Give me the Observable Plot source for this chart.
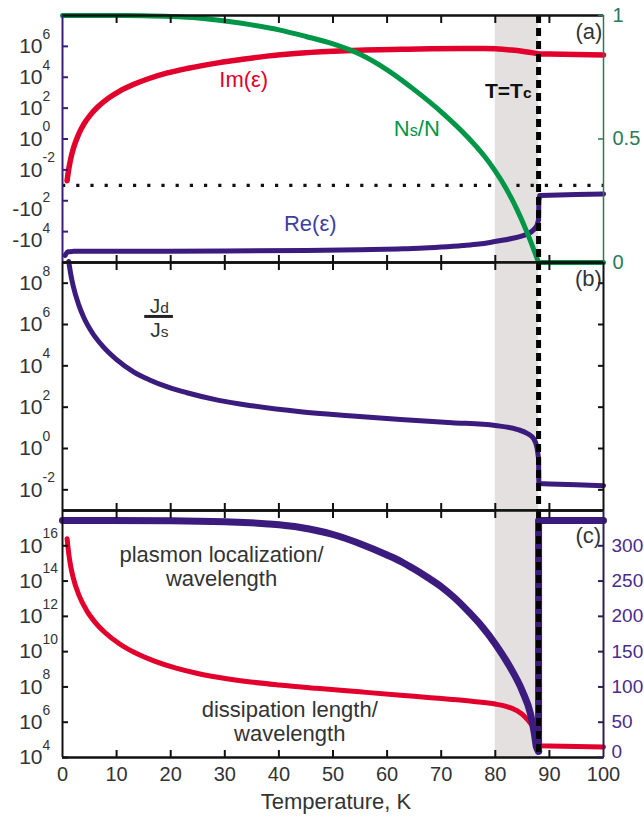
<!DOCTYPE html>
<html><head><meta charset="utf-8">
<script src="https://cdn.jsdelivr.net/npm/d3@7"></script>
<script src="https://cdn.jsdelivr.net/npm/@observablehq/plot@0.6"></script>
<style>
body{margin:0;background:#fff;}
#chart{width:644px;height:821px;overflow:hidden;position:relative;background:#fff}
#chart svg{display:block;overflow:visible}
</style></head><body><div id="chart"></div>
<script>
// ---------- data ----------
const Tc = 88;
const transitionBand = [80, 88];
const xTickValues = [0, 10, 20, 30, 40, 50, 60, 70, 80, 90, 100];

// panel (a): Im(eps), Ns/N, Re(eps)
const imT   = [0.85, 1.0, 1.5, 2, 3, 4, 5.2, 6.5, 8.3, 10.5, 13.2, 16, 19.4, 23, 29, 33, 37.8, 43, 50, 56, 62.5, 68, 74, 78, 80, 83, 85, 87, 88.1, 90, 95, 100];
const imEps = [2.0e-3, 5.0e-3, 4.9e-2, 0.24, 2.1, 9.8, 38, 117, 400, 1.23e3, 3.5e3, 8.3e3, 1.9e4, 3.7e4, 8.9e4, 1.41e5, 2.34e5, 3.47e5, 4.8e5, 5.75e5, 6.45e5, 6.9e5, 7.2e5, 7.25e5, 6.9e5, 5.75e5, 4.8e5, 3.8e5, 3.16e5, 3.16e5, 2.95e5, 2.75e5];
const nsT    = [0, 10, 15, 20, 25, 30, 35, 40, 45, 50, 55, 60, 65, 70, 75, 78, 80, 82, 84, 86, 88, 90, 95, 100];
const nsFrac = [1, 1, 0.999, 0.996, 0.99, 0.978, 0.962, 0.942, 0.915, 0.885, 0.843, 0.78, 0.70, 0.61, 0.505, 0.43, 0.37, 0.30, 0.215, 0.115, 0, 0, 0, 0];
const reT   = [0.5, 1, 2, 3, 10, 30, 45, 55, 62, 66, 70, 74, 77, 79, 81, 83, 85, 86.5, 87.3, 87.8, 88, 88.05, 88.2, 90, 95, 100];
const reEps = [-3.5e5, -2.0e5, -1.9e5, -1.86e5, -1.86e5, -1.82e5, -1.66e5, -1.48e5, -1.32e5, -1.2e5, -1.0e5, -7.9e4, -6.3e4, -5.0e4, -3.8e4, -2.8e4, -1.9e4, -1.12e4, -6.3e3, -3.2e3, -1.6e3, -1.0e2, -46, -44, -40, -36];

// panel (b): Jd/Js
const jT     = [1.15, 1.5, 2, 3, 4, 5.5, 7.5, 10, 13.2, 16, 19.4, 23, 28.9, 35, 44, 53, 62.5, 72, 80, 84, 86, 87.1, 87.7, 88, 88.05, 90, 95, 100];
const jRatio = [1.12e9, 2.95e8, 6.9e7, 8.9e6, 2.0e6, 4.0e5, 8.5e4, 2.0e4, 5.0e3, 2.14e3, 955, 500, 214, 117, 60, 38, 25, 17.8, 12.9, 8.5, 5.2, 2.95, 1.12, 0.32, 0.02, 0.019, 0.0174, 0.0158];

// panel (c): dissipation length / wavelength (left), plasmon localization / wavelength (right)
const dT      = [0.85, 1.2, 1.5, 2, 3, 4.5, 6, 8, 10.5, 13.5, 17, 21, 25, 29, 34, 40, 47, 55, 62.5, 68, 72, 76, 80, 82, 84, 85.5, 86.5, 87.3, 88, 88.2, 90, 95, 100];
const dissLen = [2.5e16, 2.8e15, 7.4e14, 1.48e14, 1.7e13, 2.04e12, 4.7e11, 1.1e11, 2.8e10, 8.3e9, 2.9e9, 1.15e9, 5.75e8, 3.4e8, 2.04e8, 1.29e8, 8.3e7, 5.25e7, 3.4e7, 2.45e7, 1.95e7, 1.5e7, 1.07e7, 7.9e6, 4.5e6, 2.0e6, 8.9e5, 4.0e5, 1.7e5, 4.6e4, 4.5e4, 4.2e4, 4.0e4];
const pT         = [0, 20, 30, 38, 44, 50, 55, 60, 62.5, 65, 67.5, 70, 72.5, 75, 77.5, 80, 82.5, 85, 86.5, 87.2, 87.6, 88, 88, 94, 100];
const plasmonLoc = [336, 335.5, 334, 331, 326, 316, 303, 287, 278, 267, 255, 242, 226, 207, 186, 161, 131, 94, 62, 35, 15, 9, 336, 336, 336];

// axes
const aDomain = [-1e6, 1e8];
const aLeftTicks = [1e6, 1e4, 1e2, 1, 1e-2, -1e2, -1e4];
const aRightTicks = [0, 0.5, 1];
const bDomain = [1e-3, 1e9];
const bTicks = [1e-2, 1, 1e2, 1e4, 1e6, 1e8];
const cDomain = [1e4, 1e18];
const cLeftTicks = [1e4, 1e6, 1e8, 1e10, 1e12, 1e14, 1e16];
const cRightDomain = [0, 350];
const cRightTicks = [0, 50, 100, 150, 200, 250, 300];

// text
const panelTags = ["(a)", "(b)", "(c)"];
const xTitle = "Temperature, K";
const txtIm = "Im(ε)", txtRe = "Re(ε)", txtNs = "N_{s}/N", txtTc = "T=T_{c}";
const txtJd = "J_{d}", txtJs = "J_{s}";
const txtPlasmon = "plasmon localization/\nwavelength";
const txtDiss = "dissipation length/\nwavelength";

// ---------- style ----------
const W = 644, ML = 62, MR = 41;
const font = "'Liberation Sans', Arial, Helvetica, sans-serif";
const red = "#e2002c", green = "#009648", purple = "#3b1c7e";
const greenAxis = "#2a7a55", purpleText = "#4a2a8c", reText = "#3f3f9e";
const ink = "#333333", bandColor = "#e3e0df";
const zip = (xs, ys) => xs.map((T, i) => ({T, v: ys[i]}));
const tickLabel = v => (v < 0 ? "-" : "") + "10^{" + Math.round(Math.log10(Math.abs(v))) + "}";
const commonStyle = {fontFamily: font, fontSize: "20px", overflow: "visible", background: "transparent", color: "#111"};

// a smooth segment below Tc and a straight jump/plateau above it
function seriesLines(xs, ys, yFn, opts) {
  const pts = zip(xs, ys);
  const k = pts.findIndex(d => d.T >= Tc);
  const pre = pts.slice(0, k + 1), post = pts.slice(k);
  return [
    Plot.line(pre, {x: "T", y: yFn, curve: "monotone-x", ...opts}),
    Plot.line(post, {x: "T", y: yFn, curve: "linear", ...opts})
  ];
}
function xTicksMarks() {
  const inner = xTickValues.slice(1, -1);
  return [
    Plot.axisX({anchor: "top", ticks: inner, tickSize: 7, dy: 7, fill: "none", stroke: "#111", strokeWidth: 2, label: null}),
    Plot.axisX({anchor: "bottom", ticks: inner, tickSize: 7, dy: -7, fill: "none", stroke: "#111", strokeWidth: 2, label: null})
  ];
}
function bandMark() {
  return Plot.rect([transitionBand], {x1: d => d[0], x2: d => d[1], fill: bandColor});
}
function tcMark() {
  return Plot.ruleX([Tc], {stroke: "#000", strokeWidth: 5, strokeDasharray: "8,5"});
}

// ---------- panel (a) ----------
const f = v => v > 0 ? Math.log10(v) + 3 : 1 - Math.log10(-v);   // split log scale
const ta0 = f(aDomain[0]), ta1 = f(aDomain[1]);
const g = n => ta0 + n * (ta1 - ta0);                               // right axis (Ns/N)
const aLbl = new Map(aLeftTicks.map(v => [f(v), tickLabel(v)]));

const plotA = Plot.plot({
  width: W, height: 262, marginTop: 15, marginBottom: 0, marginLeft: ML, marginRight: MR,
  x: {domain: [0, 100], label: null},
  y: {domain: [ta0, ta1], label: null},
  style: commonStyle,
  marks: [
    bandMark(),
    Plot.ruleY([0], {stroke: "#111", strokeWidth: 3.2, strokeDasharray: "3.2,11"}),
    ...seriesLines(imT, imEps, d => f(d.v), {stroke: red, strokeWidth: 5.5}),
    ...seriesLines(reT, reEps, d => f(d.v), {stroke: purple, strokeWidth: 5}),
    ...seriesLines(nsT, nsFrac, d => g(d.v), {stroke: green, strokeWidth: 5}),
    tcMark(),
    Plot.ruleY([ta0, ta1], {stroke: "#111", strokeWidth: 2.5}),
    Plot.ruleX([0], {stroke: purple, strokeWidth: 2}),
    Plot.ruleX([100], {stroke: greenAxis, strokeWidth: 1.5}),
    ...xTicksMarks(),
    Plot.axisY({anchor: "left", ticks: aLeftTicks.map(f), tickSize: 6, dx: 6, fill: "none", stroke: purple, strokeWidth: 2, label: null}),
    Plot.axisY({anchor: "left", ticks: aLeftTicks.filter(v => v > 0).map(f), tickFormat: t => aLbl.get(t), tickSize: 0, tickPadding: 20, fontSize: 21, fill: ink, label: null}),
    Plot.axisY({anchor: "left", ticks: aLeftTicks.filter(v => v < 0).map(f), tickFormat: t => aLbl.get(t), tickSize: 0, tickPadding: 20, dy: 9, fontSize: 21, fill: ink, label: null}),
    Plot.axisY({anchor: "right", ticks: aRightTicks.map(g), tickSize: 6, dx: -6, fill: "none", stroke: greenAxis, strokeWidth: 1.5, label: null}),
    Plot.axisY({anchor: "right", ticks: aRightTicks.map(g), tickFormat: t => d3.format("~g")((t - ta0) / (ta1 - ta0)), tickSize: 0, tickPadding: 9, fontSize: 20, fill: greenAxis, label: null}),
    Plot.text([txtIm], {x: 33.5, y: f(7e3), text: d => d, fill: red, fontSize: 22}),
    Plot.text([txtRe], {x: 45.8, y: f(-3e3), text: d => d, fill: reText, fontSize: 22}),
    Plot.text([txtNs], {x: 65.5, y: g(0.54), text: d => d, fill: green, fontSize: 22}),
    Plot.text([txtTc], {x: 82.4, y: f(1.2e3), text: d => d, fill: "#111", fontSize: 21, fontWeight: "bold"}),
    Plot.text([panelTags[0]], {x: 97.3, y: f(8.5e6), text: d => d, fill: ink, fontSize: 22})
  ]
});

// ---------- panel (b) ----------
const plotB = Plot.plot({
  width: W, height: 248, marginTop: 0, marginBottom: 0, marginLeft: ML, marginRight: MR,
  x: {domain: [0, 100], label: null},
  y: {type: "log", domain: bDomain, label: null},
  style: commonStyle,
  marks: [
    bandMark(),
    ...seriesLines(jT, jRatio, "v", {stroke: purple, strokeWidth: 5}),
    tcMark(),
    Plot.ruleY(bDomain, {stroke: "#111", strokeWidth: 2.5}),
    Plot.ruleX([0, 100], {stroke: "#111", strokeWidth: 2}),
    ...xTicksMarks(),
    Plot.axisY({anchor: "left", ticks: bTicks, tickSize: 6, dx: 6, fill: "none", stroke: "#111", strokeWidth: 2, label: null}),
    Plot.axisY({anchor: "right", ticks: bTicks, tickSize: 6, dx: -6, fill: "none", stroke: "#111", strokeWidth: 2, label: null}),
    Plot.axisY({anchor: "left", ticks: bTicks, tickFormat: tickLabel, tickSize: 0, tickPadding: 20, fontSize: 21, fill: ink, label: null}),
    Plot.text([panelTags[1]], {x: 97.2, y: 1.6e8, text: d => d, fill: ink, fontSize: 22}),
    Plot.text([txtJd], {x: 17.9, y: 10 ** 6.87, text: d => d, fill: ink, fontSize: 21}),
    Plot.text([txtJs], {x: 17.9, y: 10 ** 5.71, text: d => d, fill: ink, fontSize: 21}),
    Plot.ruleY([10 ** 6.39], {x1: 15.2, x2: 20.5, stroke: "#222", strokeWidth: 3})
  ]
});

// ---------- panel (c) ----------
const lc0 = Math.log10(cDomain[0]), lc1 = Math.log10(cDomain[1]);
const h = p => 10 ** (lc0 + (p - cRightDomain[0]) / (cRightDomain[1] - cRightDomain[0]) * (lc1 - lc0));
const hInv = y => Math.round(cRightDomain[0] + (Math.log10(y) - lc0) / (lc1 - lc0) * (cRightDomain[1] - cRightDomain[0]));

const plotC = Plot.plot({
  width: W, height: 311, marginTop: 0, marginBottom: 64, marginLeft: ML, marginRight: MR,
  x: {domain: [0, 100], label: null},
  y: {type: "log", domain: cDomain, label: null},
  style: commonStyle,
  marks: [
    bandMark(),
    ...seriesLines(dT, dissLen, "v", {stroke: red, strokeWidth: 5}),
    ...seriesLines(pT, plasmonLoc, d => h(d.v), {stroke: purple, strokeWidth: 7}),
    tcMark(),
    Plot.ruleY(cDomain, {stroke: "#111", strokeWidth: 2.5}),
    Plot.ruleX([0], {stroke: "#111", strokeWidth: 2}),
    Plot.ruleX([100], {stroke: "#2a1f4f", strokeWidth: 2}),
    ...xTicksMarks(),
    Plot.axisY({anchor: "left", ticks: cLeftTicks, tickSize: 6, dx: 6, fill: "none", stroke: "#111", strokeWidth: 2, label: null}),
    Plot.axisY({anchor: "left", ticks: cLeftTicks, tickFormat: tickLabel, tickSize: 0, tickPadding: 20, fontSize: 21, fill: ink, label: null}),
    Plot.axisY({anchor: "right", ticks: cRightTicks.map(h), tickSize: 6, dx: -6, fill: "none", stroke: "#2a1f4f", strokeWidth: 2, label: null}),
    Plot.axisY({anchor: "right", ticks: cRightTicks.slice(1).map(h), tickFormat: y => String(hInv(y)), tickSize: 0, tickPadding: 8, fontSize: 19, fill: purpleText, label: null}),
    Plot.axisY({anchor: "right", ticks: cRightTicks.slice(0, 1).map(h), tickFormat: y => String(hInv(y)), tickSize: 0, tickPadding: 8, dy: -6, fontSize: 19, fill: purpleText, label: null}),
    Plot.axisX({anchor: "bottom", ticks: xTickValues, tickFormat: d => String(d), tickSize: 0, tickPadding: 9, fontSize: 20, fill: ink, label: null}),
    Plot.text([xTitle], {frameAnchor: "bottom", dy: 51, dx: 3, text: d => d, fill: ink, fontSize: 22}),
    Plot.text([panelTags[2]], {x: 97.2, y: 3.6e16, text: d => d, fill: ink, fontSize: 22}),
    Plot.text([txtPlasmon], {x: 29.4, y: 7.2e14, text: d => d, fill: ink, fontSize: 22, lineHeight: 1.1}),
    Plot.text([txtDiss], {x: 42, y: 1.1e6, text: d => d, fill: ink, fontSize: 22, lineHeight: 1.1})
  ]
});

const root = document.getElementById("chart");
[plotA, plotB, plotC].forEach(p => root.appendChild(p));

// rich text: ^{..} hanging superscript, _{..} small letters
function rich(svg) {
  const NS = "http://www.w3.org/2000/svg";
  svg.querySelectorAll("text, tspan").forEach(el => {
    if (el.children.length) return;
    const s = el.textContent;
    if (!/[\^_]\{/.test(s)) return;
    const fs = parseFloat(getComputedStyle(el).fontSize) || 20;
    el.textContent = "";
    const add = (str, attrs) => {
      const t = document.createElementNS(NS, "tspan");
      t.textContent = str;
      for (const k in attrs) t.setAttribute(k, attrs[k]);
      el.appendChild(t);
    };
    const re = /([\^_])\{([^}]*)\}/g;
    let last = 0, m;
    while ((m = re.exec(s))) {
      if (m.index > last) add(s.slice(last, m.index), {});
      if (m[1] === "^") {
        add(m[2], {"font-size": (0.66 * fs).toFixed(1), dy: (-0.68 * fs).toFixed(1), x: el.getAttribute("x") || 0, "text-anchor": "start"});
      } else {
        add(m[2], {"font-size": (0.74 * fs).toFixed(1)});
      }
      last = re.lastIndex;
    }
    if (last < s.length) add(s.slice(last), {});
  });
}
root.querySelectorAll("svg").forEach(rich);
</script></body></html>
